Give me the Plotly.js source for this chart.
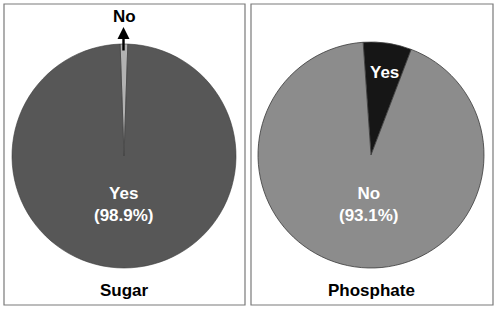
<!DOCTYPE html>
<html><head><meta charset="utf-8">
<script src="https://cdn.plot.ly/plotly-3.0.1.min.js"></script>
<style>html,body{margin:0;padding:0;background:#fff}#c{width:498px;height:311px}</style>
</head><body><div id="c"></div>
<script>
const panelTitles = ["Sugar", "Phosphate"];
const sugarLabels = ["No", "Yes"];
const sugarValues = [1.1, 98.9];
const phosLabels = ["Yes", "No"];
const phosValues = [6.9, 93.1];

const W = 498, H = 311;
const px = x => x / W, py = y => 1 - y / H;
const F = "Liberation Sans, Arial, sans-serif";

const traces = [
  {type: "pie", labels: sugarLabels, values: sugarValues, sort: false, direction: "clockwise", rotation: -2,
   textinfo: "none", hoverinfo: "label+percent",
   marker: {colors: ["#b2b2b2", "#575757"], line: {color: "#3a3a3a", width: 0.6}},
   domain: {x: [px(12), px(236)], y: [py(268), py(44)]}},
  {type: "pie", labels: phosLabels, values: phosValues, sort: false, direction: "clockwise", rotation: -4,
   textinfo: "none", hoverinfo: "label+percent",
   marker: {colors: ["#161616", "#8c8c8c"], line: {color: "#3a3a3a", width: 0.8}},
   domain: {x: [px(258), px(484)], y: [py(268), py(42)]}}
];

const pct = v => "(" + v.toFixed(1) + "%)";
const annotations = [
  {x: px(124), y: py(204), text: "<b>" + sugarLabels[1] + "<br>" + pct(sugarValues[1]) + "</b>", font: {color: "#fff", size: 17, family: F}},
  {x: px(124), y: py(16), text: "<b>" + sugarLabels[0] + "</b>", font: {color: "#000", size: 17, family: F}},
  {x: px(123.5), y: py(27), ax: 0, ay: 25, text: "", showarrow: true, arrowhead: 2, arrowsize: 1, arrowwidth: 2.4, arrowcolor: "#000"},
  {x: px(369), y: py(204), text: "<b>" + phosLabels[1] + "<br>" + pct(phosValues[1]) + "</b>", font: {color: "#fff", size: 17, family: F}},
  {x: px(384), y: py(72), text: "<b>" + phosLabels[0] + "</b>", font: {color: "#fff", size: 17, family: F}},
  {x: px(124), y: py(290), text: "<b>" + panelTitles[0] + "</b>", font: {color: "#000", size: 17, family: F}},
  {x: px(371), y: py(290), text: "<b>" + panelTitles[1] + "</b>", font: {color: "#000", size: 17, family: F}}
].map(a => Object.assign({xref: "paper", yref: "paper", showarrow: false, align: "center", xanchor: "center", yanchor: "middle"}, a));

const shapes = [
  {type: "rect", xref: "paper", yref: "paper", x0: px(4), x1: px(245), y0: py(305), y1: py(4), line: {color: "#7a7a7a", width: 1.2}},
  {type: "rect", xref: "paper", yref: "paper", x0: px(251), x1: px(493), y0: py(305), y1: py(4), line: {color: "#7a7a7a", width: 1.2}}
];

Plotly.newPlot("c", traces, {
  width: W, height: H, margin: {l: 0, r: 0, t: 0, b: 0},
  paper_bgcolor: "#fff", showlegend: false,
  annotations: annotations, shapes: shapes
}, {displayModeBar: false, staticPlot: true});
</script></body></html>
